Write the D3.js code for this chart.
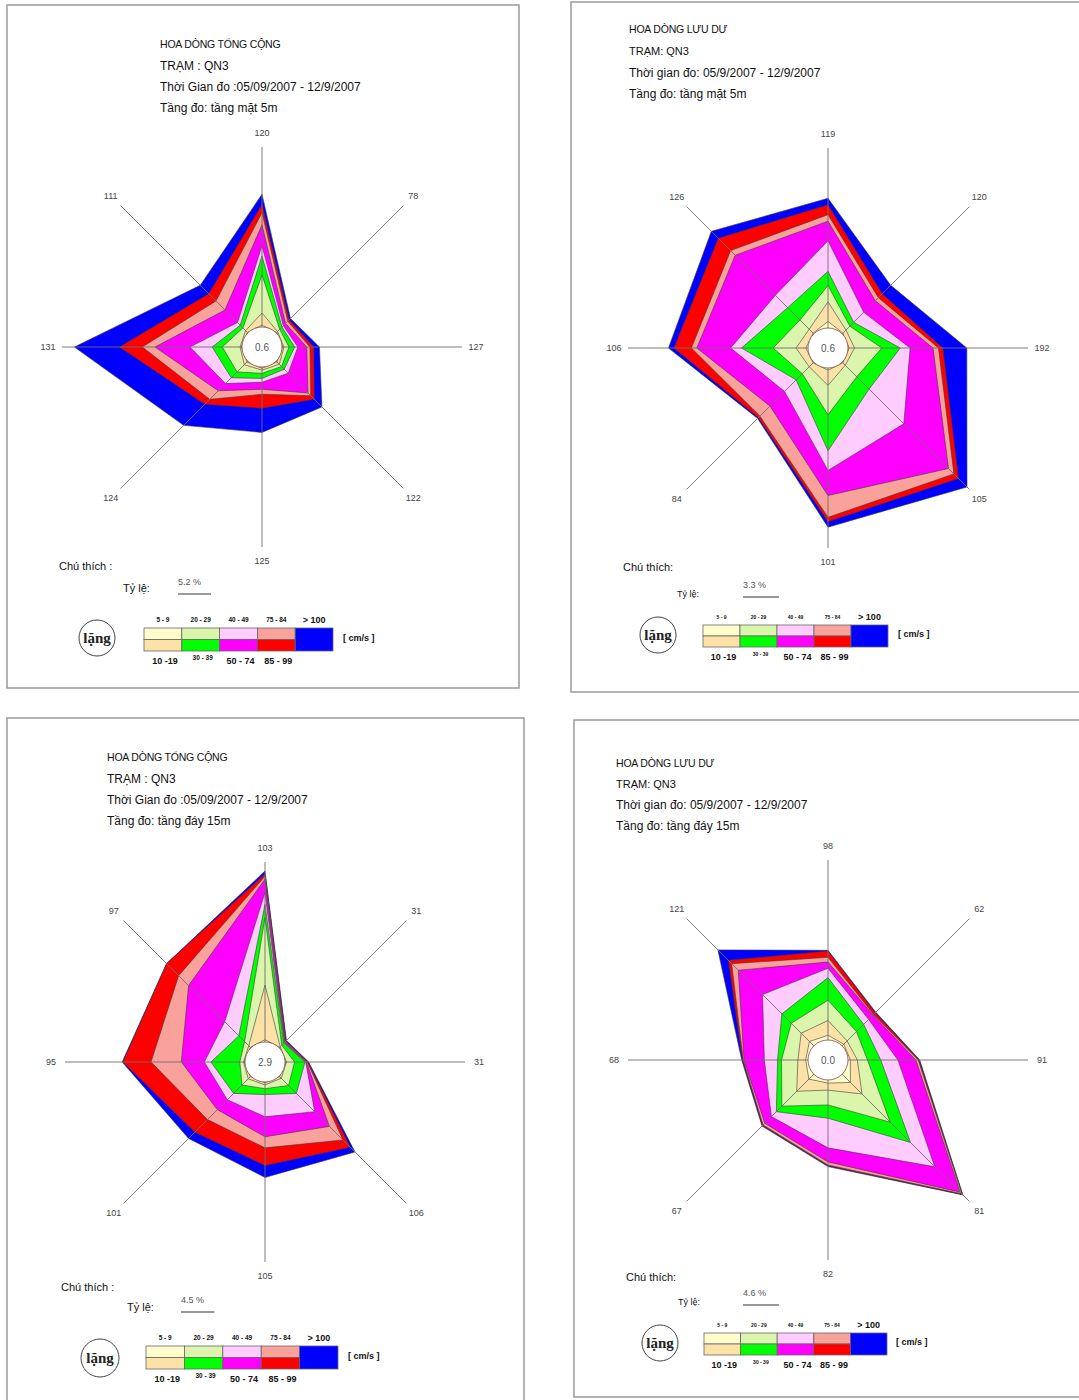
<!DOCTYPE html>
<html>
<head>
<meta charset="utf-8">
<script src="https://cdn.jsdelivr.net/npm/d3@7"></script>
<style>
  body { margin: 0; background: #fff; }
  svg { display: block; font-family: "Liberation Sans", Arial, sans-serif; }
</style>
</head>
<body>
<svg id="chart" width="1079" height="1400"></svg>
<script>
// Eight current directions, clockwise from north
const directions = ["N", "NE", "E", "SE", "S", "SW", "W", "NW"];

// Speed classes (cm/s), innermost first
const speedClasses = ["5 - 9", "10 -19", "20 - 29", "30 - 39", "40 - 49", "50 - 74", "75 - 84", "85 - 99", "> 100"];
const classColors = ["#FFFDCB", "#FCE2A6", "#DCF5AC", "#00FF00", "#FFCCFF", "#FF00FF", "#F9A19B", "#FF0000", "#0000FF"];

// Frequency (%) per speed class (rows) and direction (columns N..NW)
// Total current, surface layer 5m
const surfaceTotal = [
  [0.3, 0.1, 0.1, 0.2, 0.2, 0.2, 0.1, 0.1],
  [1.9, 0.2, 0.2, 0.5, 0.3, 0.6, 0.2, 0.4],
  [6.0, 0.5, 0.8, 0.5, 0.5, 1.6, 2.8, 0.6],
  [3.0, 0.5, 0.9, 0.6, 0.8, 1.3, 1.6, 0.6],
  [1.6, 0.3, 0.5, 0.9, 0.6, 1.3, 3.5, 0.6],
  [3.3, 0.5, 1.4, 4.4, 1.1, 1.6, 5.5, 2.8],
  [1.9, 0.5, 0.5, 0.6, 0.8, 1.9, 2.0, 2.0],
  [1.3, 0.3, 0.6, 0.8, 2.2, 1.1, 3.6, 1.6],
  [1.6, 0.3, 0.9, 1.7, 3.8, 4.7, 7.1, 1.9]
];
// Residual current, surface layer 5m
const surfaceResidual = [
  [0.6, 0.1, 0.1, 0.1, 0.2, 0.1, 0.2, 0.1],
  [1.8, 0.4, 0.5, 0.3, 1.4, 0.5, 0.9, 0.5],
  [1.5, 0.5, 2.5, 1.5, 2.7, 0.9, 2.1, 1.2],
  [1.3, 0.5, 1.7, 1.6, 3.3, 0.8, 2.9, 1.6],
  [2.8, 1.3, 0.9, 4.5, 1.8, 1.5, 1.0, 1.6],
  [1.8, 1.5, 2.1, 5.8, 2.3, 1.9, 3.1, 5.2],
  [0.6, 0.4, 0.5, 0.7, 2.0, 1.3, 0.5, 0.6],
  [0.9, 0.5, 0.4, 0.6, 0.4, 0.2, 1.6, 1.6],
  [0.6, 1.1, 2.2, 1.1, 0.5, 0.1, 0.5, 0.9]
];
// Total current, bottom layer 15m
const bottomTotal = [
  [0.3, 0.1, 0.1, 0.1, 0.1, 0.1, 0.1, 0.1],
  [7.4, 0.1, 0.1, 0.3, 0.3, 0.4, 0.1, 0.3],
  [9.1, 0.3, 1.1, 1.4, 0.5, 1.2, 0.5, 0.8],
  [1.8, 0.4, 1.4, 1.5, 0.8, 1.6, 3.9, 1.1],
  [1.6, 0.1, 0.1, 3.5, 3.0, 1.2, 0.9, 2.7],
  [1.8, 0.1, 0.1, 2.8, 2.7, 1.9, 3.1, 6.9],
  [0.4, 0.1, 0.1, 2.6, 1.5, 1.9, 4.1, 1.9],
  [0.3, 0.1, 0.1, 1.4, 2.4, 2.4, 3.8, 2.3],
  [0.4, 0.1, 0.1, 0.9, 1.6, 1.2, 0.1, 0.0]
];
// Residual current, bottom layer 15m
const bottomResidual = [
  [0.6, 0.3, 0.3, 1.5, 0.4, 0.9, 0.3, 0.8],
  [1.9, 0.6, 0.9, 2.1, 0.9, 2.2, 1.0, 1.5],
  [2.6, 1.7, 1.3, 5.1, 1.9, 2.7, 2.1, 1.8],
  [2.9, 1.3, 1.7, 3.7, 1.7, 1.0, 0.5, 1.7],
  [1.2, 0.9, 2.2, 4.4, 3.8, 0.9, 1.7, 3.5],
  [0.8, 0.8, 2.3, 4.6, 1.8, 1.2, 2.6, 4.4],
  [0.6, 0.1, 0.3, 0.3, 0.4, 0.3, 0.1, 1.2],
  [0.8, 0.3, 0.1, 0.1, 0.1, 0.1, 0.1, 0.6],
  [0.1, 0.1, 0.1, 0.1, 0.1, 0.1, 0.1, 1.9]
];

// Number of records per direction (axis labels)
const surfaceTotalCounts    = [120, 78, 127, 122, 125, 124, 131, 111];
const surfaceResidualCounts = [119, 120, 192, 105, 101, 84, 106, 126];
const bottomTotalCounts     = [103, 31, 31, 106, 105, 101, 95, 97];
const bottomResidualCounts  = [98, 62, 91, 81, 82, 67, 68, 121];

// Calm percentages (centre) and scale-bar percentages
const calmValues = ["0.6", "0.6", "2.9", "0.0"];
const scaleBarPct = [5.2, 3.3, 4.5, 4.6];

// Header texts
const titles = ["HOA DÒNG TỔNG CỘNG", "HOA DÒNG LƯU DƯ", "HOA DÒNG TỔNG CỘNG", "HOA DÒNG LƯU DƯ"];
const stations = ["TRẠM : QN3", "TRẠM: QN3", "TRẠM : QN3", "TRẠM: QN3"];
const periods = ["Thời Gian đo :05/09/2007 - 12/9/2007", "Thời gian đo: 05/9/2007 - 12/9/2007",
                 "Thời Gian đo :05/09/2007 - 12/9/2007", "Thời gian đo: 05/9/2007 - 12/9/2007"];
const layers = ["Tầng đo: tầng mặt 5m", "Tầng đo: tầng mặt 5m", "Tầng đo: tầng đáy 15m", "Tầng đo: tầng đáy 15m"];
const notes = ["Chú thích :", "Chú thích:", "Chú thích :", "Chú thích:"];

// Page layout of the four panels
const layout = [
  { frame: [7, 5, 512, 683], head: [160, 44, 21.3], c: [262, 347], k: 6.35, small: false,
    note: [59, 566], ratio: [123, 588], bar: [178, 582, 594], lang: [97, 638, 18], box: [144, 628, 189, 23], unit: [343, 638] },
  { frame: [571, 2, 560, 690], head: [629, 29, 21.7], c: [828, 348], k: 10.9, small: true,
    note: [623, 567], ratio: [677, 594], bar: [743, 585, 597], lang: [658, 635, 18], box: [703, 625, 185, 22], unit: [898, 634] },
  { frame: [7, 718, 517, 720], head: [107, 757, 21.3], c: [265, 1062], k: 7.4, small: false,
    note: [61, 1287], ratio: [127, 1307], bar: [181, 1300, 1312], lang: [100, 1358, 19], box: [146, 1346, 192, 23], unit: [348, 1356] },
  { frame: [574, 720, 560, 677], head: [616, 763, 21], c: [828, 1060], k: 7.8, small: true,
    note: [626, 1277], ratio: [678, 1302], bar: [743, 1293, 1305], lang: [660, 1343, 18], box: [704, 1333, 183, 22], unit: [896, 1342] }
];

const roseData = [surfaceTotal, surfaceResidual, bottomTotal, bottomResidual];
const roseCounts = [surfaceTotalCounts, surfaceResidualCounts, bottomTotalCounts, bottomResidualCounts];

const calmRadius = 20;
const axisLength = 200;
const labelRadius = 214;

const svg = d3.select("#chart");
const angle = d3.scalePoint().domain(directions).range([0, 2 * Math.PI * 7 / 8]);

roseData.forEach((freq, p) => {
  const L = layout[p];
  const panel = svg.append("g");

  // frame
  panel.append("rect")
    .attr("x", L.frame[0]).attr("y", L.frame[1])
    .attr("width", L.frame[2]).attr("height", L.frame[3])
    .attr("fill", "none").attr("stroke", "#9a9a9a").attr("stroke-width", 1.5);

  // header block
  const head = [titles[p], stations[p], periods[p], layers[p]];
  panel.selectAll("text.head").data(head).join("text")
    .attr("class", "head")
    .attr("x", L.head[0])
    .attr("y", (d, i) => L.head[1] + i * L.head[2])
    .attr("dy", "0.35em")
    .attr("font-size", (d, i) => i === 0 ? 10.5 : (L.small && i === 1 ? 11 : 12))
    .attr("letter-spacing", (d, i) => i === 0 ? -0.2 : 0)
    .attr("fill", "#111")
    .text(d => d);

  // rose
  const rose = panel.append("g").attr("transform", `translate(${L.c[0]},${L.c[1]})`);
  const keys = speedClasses.map((d, i) => "c" + i);
  const rows = directions.map((dir, j) => {
    const o = { dir };
    keys.forEach((k, i) => { o[k] = freq[i][j]; });
    return o;
  });
  const series = d3.stack().keys(keys)(rows);
  const r = d3.scaleLinear().domain([0, 1]).range([calmRadius, calmRadius + L.k]);

  const band = d3.lineRadial()
    .angle((d, j) => angle(directions[j]))
    .radius(d => r(d[1]))
    .curve(d3.curveLinearClosed);

  rose.selectAll("path.band").data(series.slice().reverse()).join("path")
    .attr("class", "band")
    .attr("d", s => band(s))
    .attr("fill", s => classColors[s.index])
    .attr("stroke", "#3a3a3a")
    .attr("stroke-width", 0.6)
    .attr("stroke-linejoin", "miter");

  // direction axes
  rose.selectAll("line.axis").data(directions).join("line")
    .attr("class", "axis")
    .attr("x1", 0).attr("y1", 0)
    .attr("x2", d => axisLength * Math.sin(angle(d)))
    .attr("y2", d => -axisLength * Math.cos(angle(d)))
    .attr("stroke", "#6e6e6e").attr("stroke-width", 0.9);

  // axis labels
  rose.selectAll("text.count").data(directions).join("text")
    .attr("class", "count")
    .attr("x", d => labelRadius * Math.sin(angle(d)))
    .attr("y", d => -labelRadius * Math.cos(angle(d)))
    .attr("dy", "0.35em")
    .attr("text-anchor", "middle")
    .attr("font-size", 9)
    .attr("fill", "#444")
    .text((d, j) => roseCounts[p][j]);

  // calm circle
  rose.append("circle").attr("r", calmRadius)
    .attr("fill", "#fff").attr("stroke", "#8a4a3a").attr("stroke-width", 0.8);
  rose.append("text").attr("text-anchor", "middle").attr("dy", "0.35em")
    .attr("font-size", 10).attr("fill", "#555").text(calmValues[p]);

  // legend notes
  panel.append("text").attr("x", L.note[0]).attr("y", L.note[1]).attr("dy", "0.35em")
    .attr("font-size", 11).attr("fill", "#111").text(notes[p]);
  panel.append("text").attr("x", L.ratio[0]).attr("y", L.ratio[1]).attr("dy", "0.35em")
    .attr("font-size", L.small ? 9 : 11).attr("fill", "#111").text("Tỷ lệ:");

  // scale bar, length from the same radial scale
  const barLen = r(scaleBarPct[p]) - r(0);
  panel.append("text").attr("x", L.bar[0]).attr("y", L.bar[1]).attr("dy", "0.35em")
    .attr("font-size", 9).attr("fill", "#555").text(scaleBarPct[p].toFixed(1) + " %");
  panel.append("line")
    .attr("x1", L.bar[0]).attr("x2", L.bar[0] + barLen)
    .attr("y1", L.bar[2]).attr("y2", L.bar[2])
    .attr("stroke", "#777").attr("stroke-width", 1.5);

  // calm symbol
  panel.append("circle").attr("cx", L.lang[0]).attr("cy", L.lang[1]).attr("r", L.lang[2])
    .attr("fill", "#fff").attr("stroke", "#444").attr("stroke-width", 1);
  panel.append("text").attr("x", L.lang[0]).attr("y", L.lang[1]).attr("dy", "0.3em")
    .attr("text-anchor", "middle").attr("font-family", "'Liberation Serif', serif")
    .attr("font-weight", "bold").attr("font-size", 15).attr("fill", "#222").text("lặng");

  // colour key: 4 columns of paired classes + one for > 100
  const [bx, by, bw, bh] = L.box;
  const colX = d3.scaleBand().domain(d3.range(5)).range([bx, bx + bw]);
  const cells = speedClasses.map((s, i) => ({
    i, col: Math.floor(i / 2) === 4 ? 4 : Math.floor(i / 2), row: i === 8 ? -1 : i % 2
  }));
  panel.selectAll("rect.key").data(cells).join("rect")
    .attr("class", "key")
    .attr("x", d => colX(d.col))
    .attr("y", d => d.row === 1 ? by + bh / 2 : by)
    .attr("width", colX.bandwidth())
    .attr("height", d => d.row === -1 ? bh : bh / 2)
    .attr("fill", d => classColors[d.i])
    .attr("stroke", "#666").attr("stroke-width", 0.8);

  const tiny = L.small ? 5 : 6.5;
  panel.selectAll("text.keyTop").data(cells.filter(d => d.row !== 1)).join("text")
    .attr("class", "keyTop")
    .attr("x", d => colX(d.col) + colX.bandwidth() / 2)
    .attr("y", by - 8)
    .attr("dy", "0.35em")
    .attr("text-anchor", "middle")
    .attr("font-weight", "bold")
    .attr("font-size", d => d.i === 8 ? 9 : tiny)
    .attr("fill", "#111")
    .text(d => speedClasses[d.i]);
  panel.selectAll("text.keyBottom").data(cells.filter(d => d.row === 1)).join("text")
    .attr("class", "keyBottom")
    .attr("x", d => colX(d.col) + colX.bandwidth() / 2 + 2)
    .attr("y", d => d.i === 3 ? by + bh + 7 : by + bh + 10)
    .attr("dy", "0.35em")
    .attr("text-anchor", "middle")
    .attr("font-weight", "bold")
    .attr("font-size", d => d.i === 3 ? tiny : 9)
    .attr("fill", "#111")
    .text(d => speedClasses[d.i]);

  panel.append("text").attr("x", L.unit[0]).attr("y", L.unit[1]).attr("dy", "0.35em")
    .attr("font-weight", "bold").attr("font-size", 9).attr("fill", "#111").text("[ cm/s ]");
});
</script>
</body>
</html>
